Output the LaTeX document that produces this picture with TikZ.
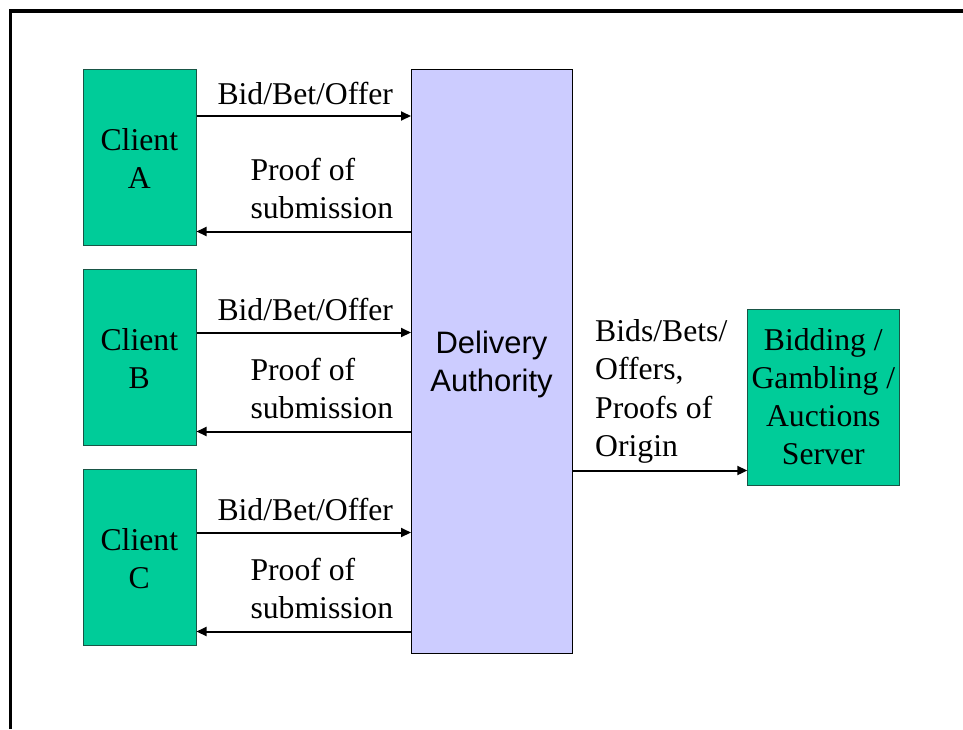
\documentclass[tikz,border=0pt]{standalone}
\usepackage{fontspec}
\setmainfont{Liberation Serif}
\newfontfamily\labelsans{Liberation Sans}
\usetikzlibrary{arrows.meta}

\definecolor{boxgreen}{RGB}{0,204,153}
\definecolor{boxedge}{RGB}{25,85,70}
\definecolor{dalilac}{RGB}{204,204,255}

\newcommand{\linesC}[1]{\begin{tabular}[t]{@{}c@{}}#1\end{tabular}}
\newcommand{\linesL}[1]{\begin{tabular}[t]{@{}l@{}}#1\end{tabular}}

\begin{document}
\begin{tikzpicture}[x=1pt,y=-1pt,
  clientbox/.style={draw=boxedge, fill=boxgreen, line width=1pt,
    minimum width=112.5pt, minimum height=176pt, inner sep=0pt, anchor=north west},
  serverbox/.style={draw=boxedge, fill=boxgreen, line width=1pt,
    minimum width=152pt, minimum height=176pt, inner sep=0pt, anchor=north west},
  authbox/.style={draw=black, fill=dalilac, line width=1pt,
    minimum width=160.5pt, minimum height=584.5pt, inner sep=0pt, anchor=north west},
  lbl/.style={inner sep=0pt, font=\fontsize{31.7}{38.2}\selectfont},
  sanslbl/.style={inner sep=0pt, font=\labelsans\fontsize{31}{38.4}\selectfont},
  conn/.style={line width=2pt, -{Triangle[length=10pt,width=9pt]}},
  frame/.style={line width=3.5pt}
]
\useasboundingbox (0,0) rectangle (963,729);

% slide frame on the top and left edges
\draw[frame] (10.3,729) -- (10.3,11) -- (963,11);

% boxes
\node[clientbox] (ca) at (83,68.5) {};
\node[clientbox] (cb) at (83,268.5) {};
\node[clientbox] (cc) at (83,468.5) {};
\node[authbox] (da) at (411,68.5) {};
\node[serverbox] (srv) at (747.3,309) {};

% box labels
\node[lbl, anchor=base] (tA) at (139.3,150) {\linesC{Client\\A}};
\node[lbl, anchor=base] (tB) at (139.3,350) {\linesC{Client\\B}};
\node[lbl, anchor=base] (tC) at (139.3,550) {\linesC{Client\\C}};
\node[sanslbl, anchor=base] (tDA) at (491.5,353.3) {\linesC{Delivery\\Authority}};
\node[lbl, anchor=base] (tSrv) at (823.3,350) {\linesC{Bidding /\\Gambling /\\Auctions\\Server}};

% heights of the connectors
\coordinate (ya1) at (0,116);
\coordinate (ya2) at (0,231.5);
\coordinate (yb1) at (0,332.5);
\coordinate (yb2) at (0,431.5);
\coordinate (yc1) at (0,532.5);
\coordinate (yc2) at (0,631.5);
\coordinate (yo)  at (0,470.5);

% client <-> delivery authority
\draw[conn] (ca.east |- ya1) -- (da.west |- ya1);
\draw[conn] (da.west |- ya2) -- (ca.east |- ya2);
\draw[conn] (cb.east |- yb1) -- (da.west |- yb1);
\draw[conn] (da.west |- yb2) -- (cb.east |- yb2);
\draw[conn] (cc.east |- yc1) -- (da.west |- yc1);
\draw[conn] (da.west |- yc2) -- (cc.east |- yc2);

% delivery authority -> server
\draw[conn] (da.east |- yo) -- (srv.west |- yo);

% connector labels
\node[lbl, anchor=base west] (bA) at (217.3,104.5) {Bid/Bet/Offer};
\node[lbl, anchor=base west] (pA) at (250.3,180) {\linesL{Proof of\\submission}};
\node[lbl, anchor=base west] (bB) at (217.3,320.7) {Bid/Bet/Offer};
\node[lbl, anchor=base west] (pB) at (250.3,380) {\linesL{Proof of\\submission}};
\node[lbl, anchor=base west] (bC) at (217.3,520.7) {Bid/Bet/Offer};
\node[lbl, anchor=base west] (pC) at (250.3,580) {\linesL{Proof of\\submission}};
\node[lbl, anchor=base west] (out) at (595,341.7) {\linesL{Bids/Bets/\\Offers,\\Proofs of\\Origin}};
\end{tikzpicture}
\end{document}
